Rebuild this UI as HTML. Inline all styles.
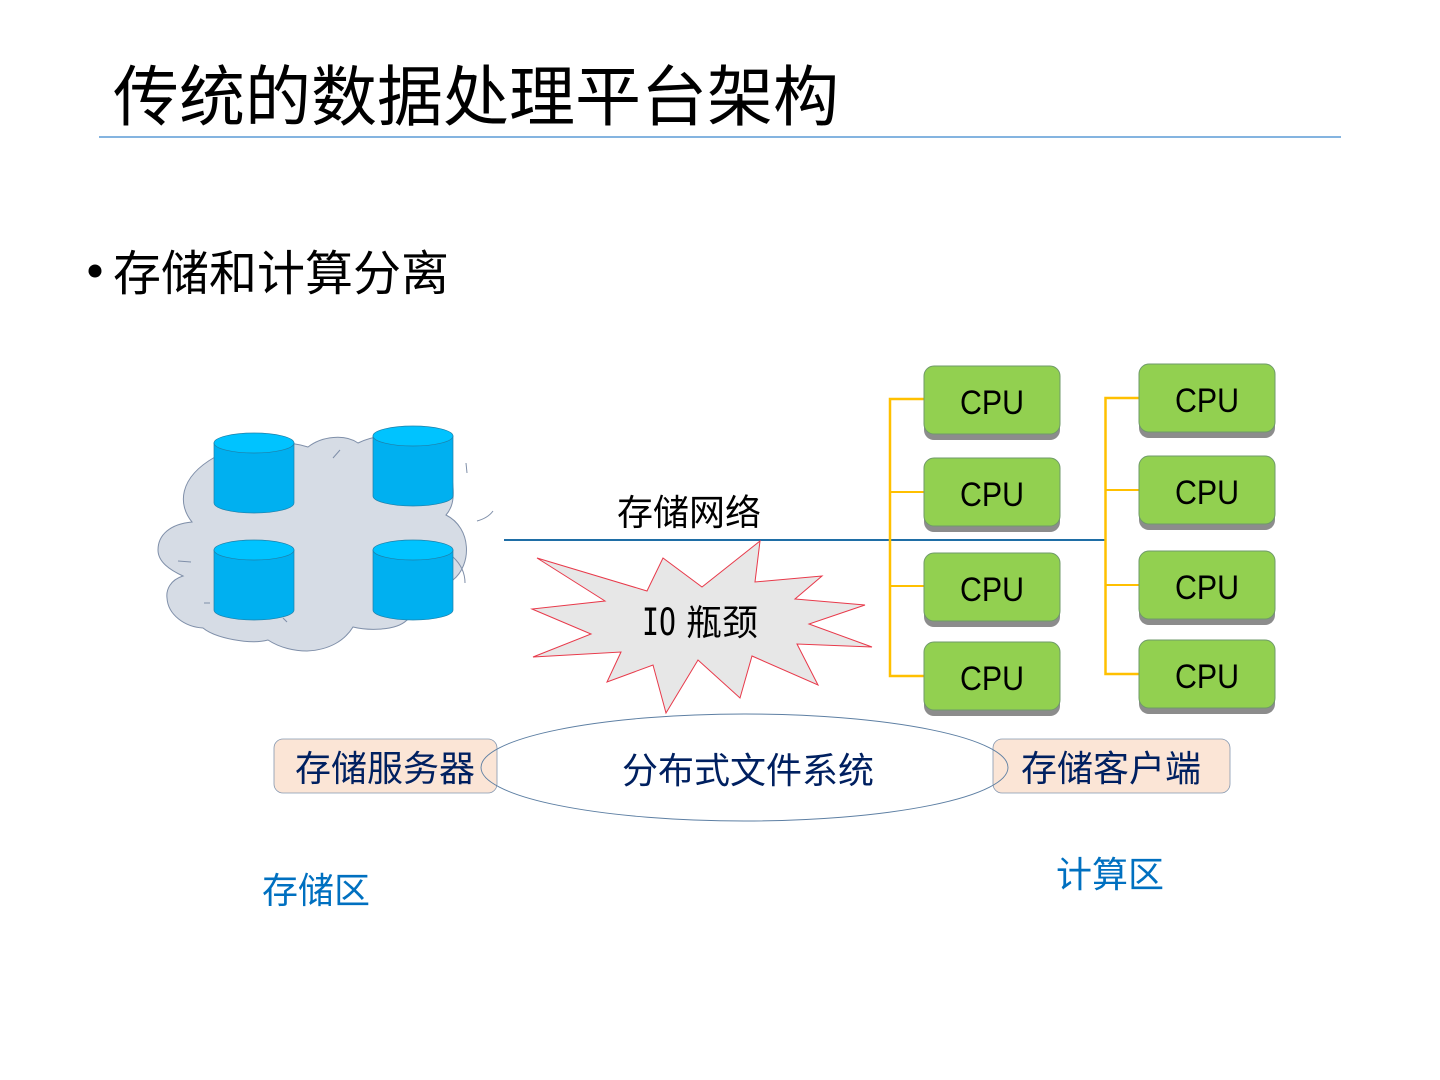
<!DOCTYPE html>
<html><head><meta charset="utf-8">
<style>
html,body{margin:0;padding:0;background:#fff;width:1440px;height:1080px;overflow:hidden}
svg{display:block}
text{font-family:"WenQuanYi Zen Hei","Liberation Sans","Noto Sans CJK SC",sans-serif}
.c{font-family:"Liberation Sans",sans-serif;font-size:34px;fill:#000;text-anchor:middle}
.n{fill:#002060;font-size:36px}
.b{fill:#0070c0;font-size:36px}
</style></head><body>
<svg width="1440" height="1080" viewBox="0 0 1440 1080" xmlns="http://www.w3.org/2000/svg">
<rect width="1440" height="1080" fill="#fff"/>
<text x="113" y="120" font-size="66" fill="#000">传统的数据处理平台架构</text>
<line x1="99" y1="137" x2="1341" y2="137" stroke="#5b9bd5" stroke-width="1.5"/>
<circle cx="95" cy="271" r="6.5" fill="#000"/>
<text x="113" y="290" font-size="48" fill="#000">存储和计算分离</text>

<!-- cloud -->
<path d="M192 522 C170 524 158 535 158 550 C158 562 170 570 183 576 C170 580 166 590 167 598 C168 615 185 627 203 628 C215 638 250 645 268 640 C280 648 295 651 307 651 C330 650 345 640 353 627 C365 630 395 632 407 620 C425 615 440 600 453 580 C472 565 472 528 446 515 C452 508 454 500 453 487 C450 440 395 425 358 443 C345 434 322 436 308 447 C280 438 240 442 215 457 C178 478 178 505 192 522 Z" fill="#d6dce5" stroke="#7f8fa9" stroke-width="1"/>
<path d="M340 450 L333 458 M466 463 L467 473 M477 521 Q488 518 493 511 M178 561 L191 562 M204 603 L210 603 M283 618 L287 622 M453 557 Q465 568 465 583" fill="none" stroke="#7f8fa9" stroke-width="1"/>

<!-- cylinders -->
<g stroke="#1f7fa8" stroke-width="0.7">
<path d="M214 443 V503 A40 10 0 0 0 294 503 V443 Z" fill="#00b0f0"/><ellipse cx="254" cy="443" rx="40" ry="10" fill="#00c3ff"/>
<path d="M373 436 V496 A40 10 0 0 0 453 496 V436 Z" fill="#00b0f0"/><ellipse cx="413" cy="436" rx="40" ry="10" fill="#00c3ff"/>
<path d="M214 550 V610 A40 10 0 0 0 294 610 V550 Z" fill="#00b0f0"/><ellipse cx="254" cy="550" rx="40" ry="10" fill="#00c3ff"/>
<path d="M373 550 V610 A40 10 0 0 0 453 610 V550 Z" fill="#00b0f0"/><ellipse cx="413" cy="550" rx="40" ry="10" fill="#00c3ff"/>
</g>

<!-- network -->
<text x="617" y="525" font-size="36" fill="#000">存储网络</text>
<line x1="504" y1="540" x2="1106" y2="540" stroke="#1f6ea6" stroke-width="2"/>

<!-- burst -->
<polygon points="537,558 647,591 663,558 702,587 760,541 755,582 822,576 795,599 865,605 809,624 872,647 797,644 818,685 752,656 740,698 698,660 666,713 653,665 607,682 621,652 533,657 591,634 532,609 605,601" fill="#e7e7e7" stroke="#e8394a" stroke-width="1"/>
<text x="642" y="635" font-size="37" fill="#000" textLength="34" lengthAdjust="spacingAndGlyphs" style="font-family:'DejaVu Sans Mono',monospace">IO</text>
<text x="686" y="635" font-size="36" fill="#000">瓶颈</text>

<!-- yellow brackets -->
<g fill="none" stroke="#ffc000">
<path d="M925 399 H890 V676 H925" stroke-width="2.5"/>
<path d="M890 492 H925 M890 586 H925" stroke-width="2"/>
<path d="M1140 398 H1105.5 V674 H1140" stroke-width="2.5"/>
<path d="M1105.5 490 H1140 M1105.5 585 H1140" stroke-width="2"/>
</g>

<!-- CPUs -->
<g stroke="none" fill="#8c8c8c">
<rect x="924" y="372" width="136" height="68" rx="10"/>
<rect x="924" y="464" width="136" height="68" rx="10"/>
<rect x="924" y="559" width="136" height="68" rx="10"/>
<rect x="924" y="648" width="136" height="68" rx="10"/>
<rect x="1139" y="370" width="136" height="68" rx="10"/>
<rect x="1139" y="462" width="136" height="68" rx="10"/>
<rect x="1139" y="557" width="136" height="68" rx="10"/>
<rect x="1139" y="646" width="136" height="68" rx="10"/>
</g>
<g fill="#92d050" stroke="#6f9a6a" stroke-width="1">
<rect x="924" y="366" width="136" height="68" rx="10"/>
<rect x="924" y="458" width="136" height="68" rx="10"/>
<rect x="924" y="553" width="136" height="68" rx="10"/>
<rect x="924" y="642" width="136" height="68" rx="10"/>
<rect x="1139" y="364" width="136" height="68" rx="10"/>
<rect x="1139" y="456" width="136" height="68" rx="10"/>
<rect x="1139" y="551" width="136" height="68" rx="10"/>
<rect x="1139" y="640" width="136" height="68" rx="10"/>
</g>
<g>
<text class="c" x="992" y="414" textLength="64" lengthAdjust="spacingAndGlyphs">CPU</text>
<text class="c" x="992" y="506" textLength="64" lengthAdjust="spacingAndGlyphs">CPU</text>
<text class="c" x="992" y="601" textLength="64" lengthAdjust="spacingAndGlyphs">CPU</text>
<text class="c" x="992" y="690" textLength="64" lengthAdjust="spacingAndGlyphs">CPU</text>
<text class="c" x="1207" y="412" textLength="64" lengthAdjust="spacingAndGlyphs">CPU</text>
<text class="c" x="1207" y="504" textLength="64" lengthAdjust="spacingAndGlyphs">CPU</text>
<text class="c" x="1207" y="599" textLength="64" lengthAdjust="spacingAndGlyphs">CPU</text>
<text class="c" x="1207" y="688" textLength="64" lengthAdjust="spacingAndGlyphs">CPU</text>
</g>

<!-- bottom -->
<ellipse cx="744.5" cy="767.5" rx="263.5" ry="53.5" fill="#fff"/>
<rect x="274" y="739" width="223" height="54" rx="9" fill="#fbe5d6" stroke="#8497b0" stroke-width="0.8"/>
<rect x="993" y="739" width="237" height="54" rx="9" fill="#fbe5d6" stroke="#8497b0" stroke-width="0.8"/>
<ellipse cx="744.5" cy="767.5" rx="263.5" ry="53.5" fill="none" stroke="#5d7fa3" stroke-width="0.9"/>
<text class="n" x="295" y="781">存储服务器</text>
<text class="n" x="622" y="783">分布式文件系统</text>
<text class="n" x="1021" y="781">存储客户端</text>
<text class="b" x="262" y="903">存储区</text>
<text class="b" x="1056" y="887">计算区</text>
</svg>
</body></html>
